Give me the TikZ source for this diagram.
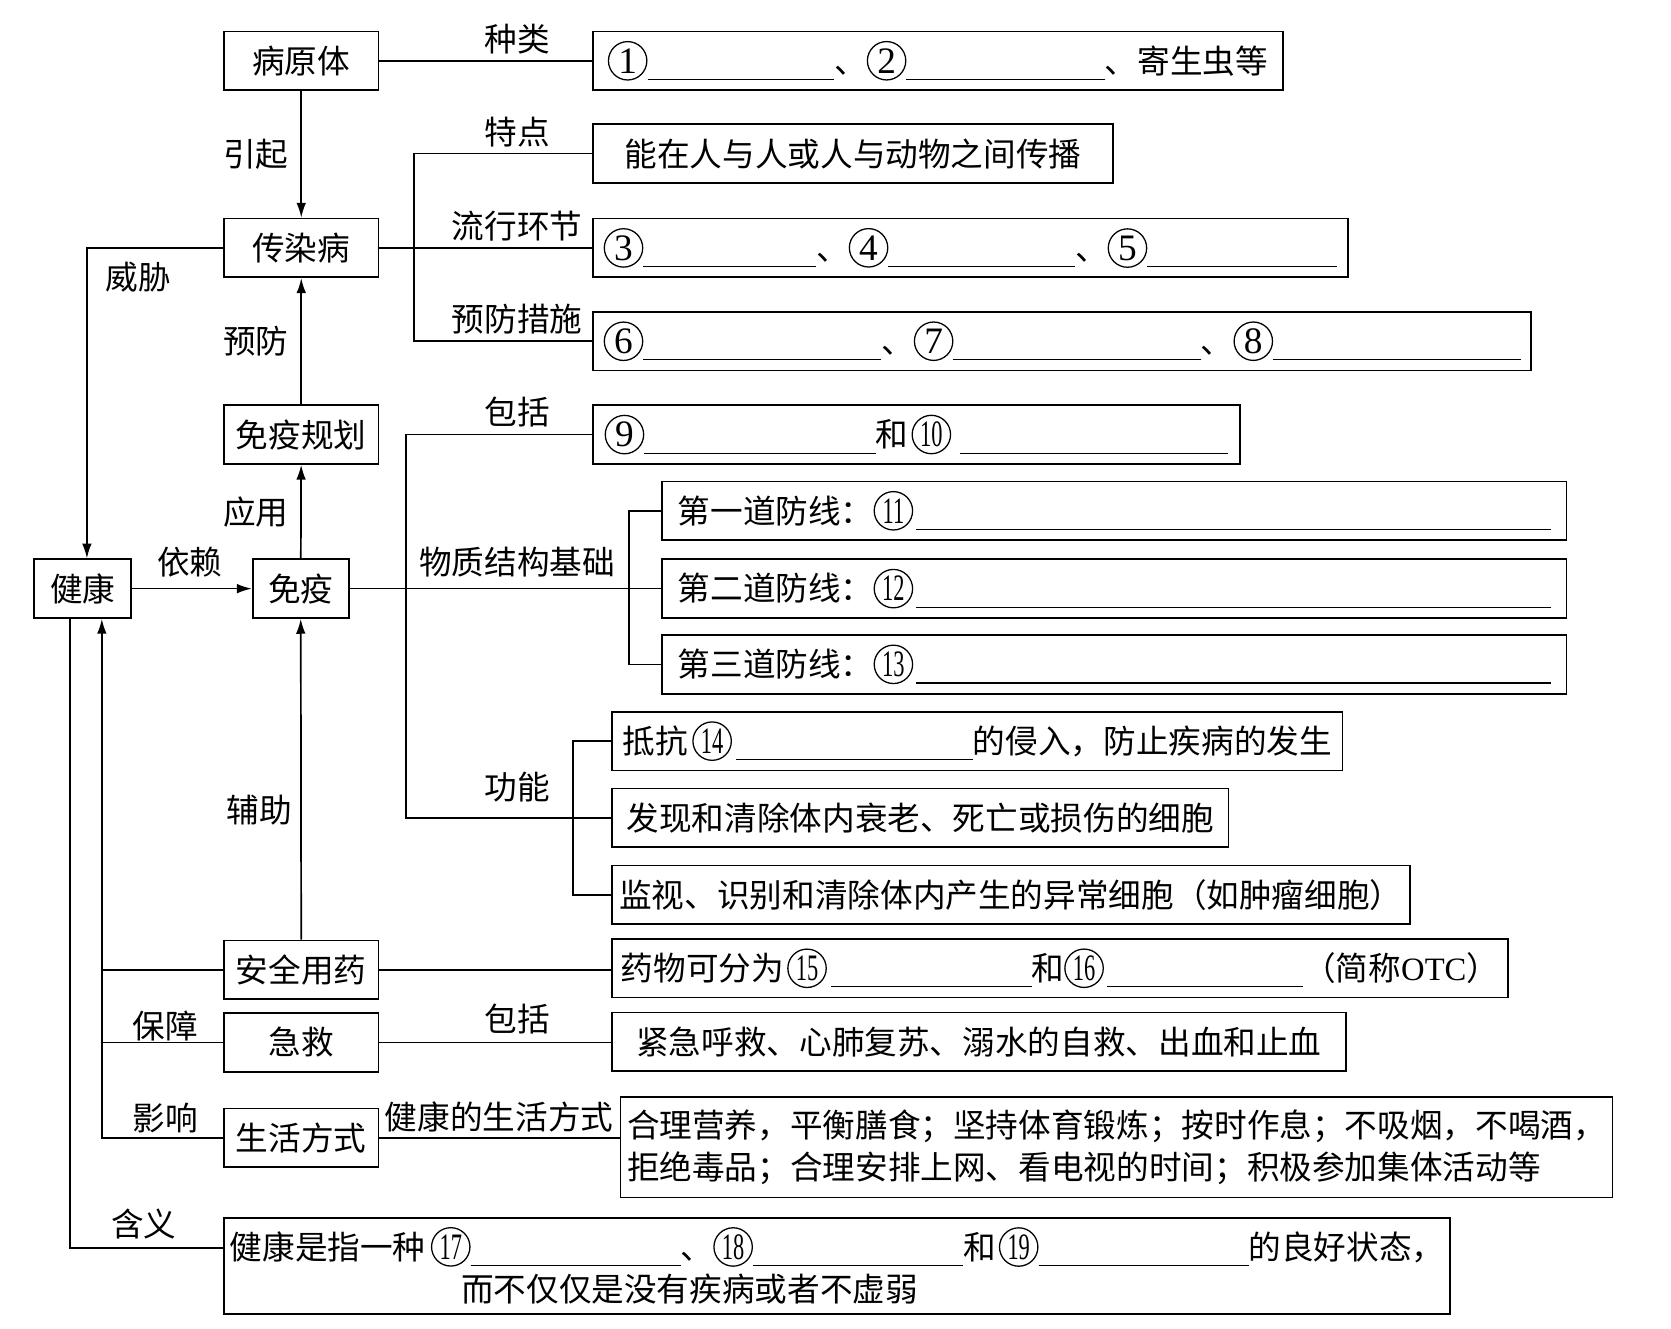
\documentclass[tikz,border=0pt]{standalone}
\usepackage{fontspec}
\usepackage{graphicx}
\setmainfont{Noto Sans CJK SC}
\newfontfamily\numfont{Liberation Serif}
\usetikzlibrary{arrows.meta}
\newcommand\cn[1]{\tikz[baseline=(X.base)]\node[draw,circle,line width=0.6pt,inner sep=0pt,minimum size=18pt,font=\numfont\fontsize{17.5}{18}\selectfont,anchor=center](X){#1};}
\newcommand\cnn[1]{\cn{\scalebox{0.6}[1]{#1}}}
\newcommand\bl[1]{\rule[-3.3pt]{#1}{0.6pt}}
\begin{document}
\begin{tikzpicture}[x=0.5pt,y=-0.5pt,line width=0.8pt,
  font=\fontsize{15.3}{20}\selectfont,
  box/.style={draw,line width=0.8pt,inner sep=0pt,minimum height=27.5pt,align=left},
  lab/.style={inner sep=0pt},
  arr/.style={-{Latex[length=7pt,width=4.5pt]}}]
\useasboundingbox (0,0) rectangle (1567,1246);
% left column
\node[box,minimum width=72.5pt] (byt) at (282.5,57) {病原体};
\node[box,minimum width=72.5pt] (crb) at (282.5,232.5) {传染病};
\node[box,minimum width=72.5pt] (myg) at (282.5,407.5) {免疫规划};
\node[box,minimum width=45pt] (my) at (282,552) {免疫};
\node[box,minimum width=45.5pt] (jk) at (77.5,552) {健康};
\node[box,minimum width=72.5pt] (aq) at (282.5,909.5) {安全用药};
\node[box,minimum width=72.5pt] (jj) at (282.5,977.5) {急救};
\node[box,minimum width=72.5pt] (sh) at (282.5,1067) {生活方式};
% right boxes
\node[box,minimum width=323.5pt] (b1) at (879.5,57) {\cn{1}\bl{87.5pt}、\cn{2}\bl{93pt}、寄生虫等};
\node[box,minimum width=244pt] (b2) at (800,144) {能在人与人或人与动物之间传播};
\node[box,minimum width=354pt] (b3) at (910,232.5) {\cn{3}\bl{81pt}、\cn{4}\bl{87.5pt}、\cn{5}\bl{89pt}};
\node[box,minimum width=440pt] (b4) at (996,320) {\cn{6}\bl{111.5pt}、\cn{7}\bl{116pt}、\cn{8}\bl{116pt}};
\node[box,minimum width=303.5pt] (b9) at (859.5,407.5) {\cn{9}\bl{108.5pt}和\hspace{1.5pt}\cnn{10}\hspace{4pt}\bl{126pt}};
\node[box,minimum width=424pt] (d1) at (1045,479) {第一道防线：\cnn{11}\hspace{1.5pt}\bl{297.5pt}};
\node[box,minimum width=424pt] (d2) at (1045,552) {第二道防线：\cnn{12}\hspace{1.5pt}\bl{297.5pt}};
\node[box,minimum width=424pt] (d3) at (1045,623) {第三道防线：\cnn{13}\hspace{1.5pt}\bl{297.5pt}};
\node[box,minimum width=342.5pt] (f1) at (916.5,695) {抵抗\hspace{2pt}\cnn{14}\hspace{2pt}\bl{111pt}的侵入，防止疾病的发生};
\node[box,minimum width=289pt] (f2) at (863,767) {发现和清除体内衰老、死亡或损伤的细胞};
\node[box,minimum width=374pt] (f3) at (948,839) {监视、识别和清除体内产生的异常细胞（如肿瘤细胞）};
\node[box,minimum width=420pt] (m1) at (994,908) {药物可分为\hspace{1.5pt}\cnn{15}\hspace{2pt}\bl{94pt}和\cnn{16}\hspace{1.5pt}\bl{92pt}（简称{\numfont OTC}）};
\node[box,minimum width=344pt] (j1) at (918,977) {紧急呼救、心肺复苏、溺水的自救、出血和止血};
\node[box,minimum width=465pt,minimum height=47pt] (s1) at (1047,1076) {合理营养，平衡膳食；坚持体育锻炼；按时作息；不吸烟，不喝酒，\\拒绝毒品；合理安排上网、看电视的时间；积极参加集体活动等};
\node[box,minimum width=575pt,minimum height=45pt] (hb) at (785,1187) {健康是指一种\hspace{2.5pt}\cnn{17}\bl{98.5pt}、\cnn{18}\bl{98.5pt}和\hspace{1.5pt}\cnn{19}\bl{98.5pt}的良好状态，\\\hspace*{108.5pt}而不仅仅是没有疾病或者不虚弱};
% labels
\node[lab] (t1) at (485,37) {种类};
\node[lab] (t2) at (485,124) {特点};
\node[lab] (t3) at (485,212) {流行环节};
\node[lab] (t4) at (485,299) {预防措施};
\node[lab] (t5) at (485,386) {包括};
\node[lab] (t6) at (485,527) {物质结构基础};
\node[lab] (t7) at (485,738) {功能};
\node[lab] (t8) at (485,956) {包括};
\node[lab] (t9) at (468,1047) {健康的生活方式};
\node[lab] (t10) at (240,145) {引起};
\node[lab] (t11) at (240,320) {预防};
\node[lab] (t12) at (240,480) {应用};
\node[lab] (t13) at (243,760) {辅助};
\node[lab] (t14) at (130,260) {威胁};
\node[lab] (t15) at (178,527) {依赖};
\node[lab] (t16) at (155,962) {保障};
\node[lab] (t17) at (155,1048) {影响};
\node[lab] (t18) at (135,1148) {含义};
% connectors
\draw (byt) -- (b1);
\draw[arr] (byt) -- (crb);
\draw (crb) -- (b3);
\coordinate (cv) at (388,232.5);
\draw (b2.west) -| (cv) |- (b4.west);
\draw[arr] (myg) -- (crb);
\draw[arr] (my) -- (myg);
\draw[arr] (jk) -- (my);
\draw[arr] (aq) -- (my);
\draw[arr] (crb.west) -| ([xshift=2pt]jk.north);
\draw (my) -- (d2);
\coordinate (dv) at (590,552);
\draw (d1.west) -| (dv) |- (d3.west);
\coordinate (fv) at (381,767);
\draw (b9.west) -| (fv) -- (f2.west);
\coordinate (gv) at (537,767);
\draw (f1.west) -| (gv) |- (f3.west);
\draw (aq.east) -- (aq.east -| m1.west);
\draw (jj.east) -- (jj.east -| j1.west);
\draw (sh.east) -- (sh.east -| s1.west);
\coordinate (hv) at ([xshift=9pt]jk.south);
\draw[arr] (sh.west) -| (hv);
\draw (aq.west) -- (aq.west -| hv);
\draw (jj.west) -- (jj.west -| hv);
\coordinate (hl) at ([xshift=-6pt]jk.south);
\draw (hl) |- ([yshift=8.5pt]hb.west);
\end{tikzpicture}
\end{document}
